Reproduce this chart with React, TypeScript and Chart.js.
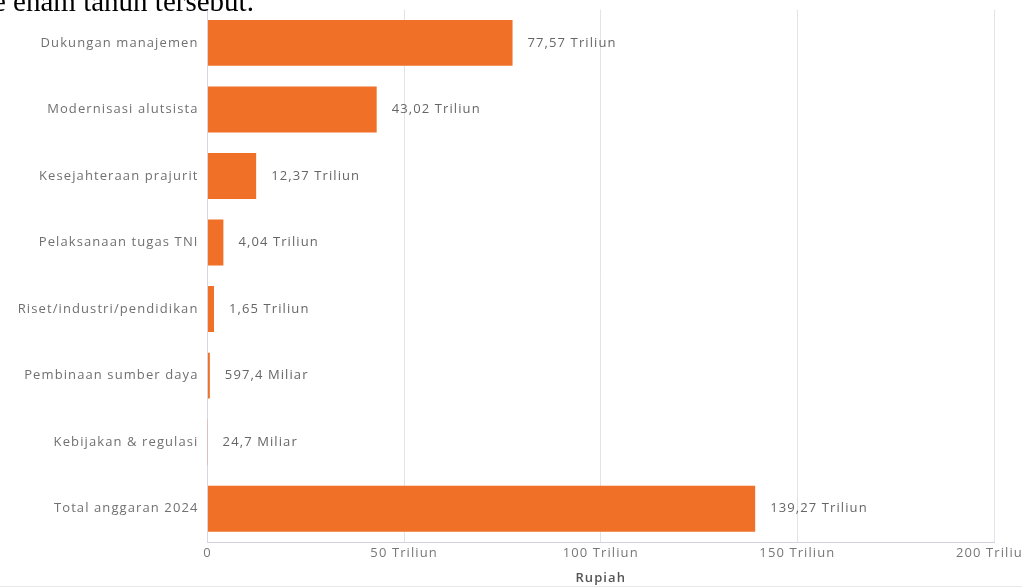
import React, { useEffect, useRef } from "react";
import { Chart, registerables } from "chart.js";

Chart.register(...registerables);

const categories = [
  "Dukungan manajemen",
  "Modernisasi alutsista",
  "Kesejahteraan prajurit",
  "Pelaksanaan tugas TNI",
  "Riset/industri/pendidikan",
  "Pembinaan sumber daya",
  "Kebijakan & regulasi",
  "Total anggaran 2024",
];

// values in Triliun rupiah
const values = [77.57, 43.02, 12.37, 4.04, 1.65, 0.5974, 0.0247, 139.27];

const valueLabels = [
  "77,57 Triliun",
  "43,02 Triliun",
  "12,37 Triliun",
  "4,04 Triliun",
  "1,65 Triliun",
  "597,4 Miliar",
  "24,7 Miliar",
  "139,27 Triliun",
];

const xTickUnit = "Triliun";
const xAxisTitle = "Rupiah";
const topText = "e enam tahun tersebut.";

const FONT = "'Open Sans', 'Noto Sans', sans-serif";
const SPACING = "1.1px";

const spacingPlugin = {
  id: "spacing",
  beforeLayout(chart: any) {
    chart.ctx.letterSpacing = SPACING;
  },
  beforeDraw(chart: any) {
    chart.ctx.letterSpacing = SPACING;
  },
};

const valueLabelPlugin = {
  id: "valueLabels",
  afterDatasetsDraw(chart: any) {
    const ctx = chart.ctx;
    const meta = chart.getDatasetMeta(0);
    ctx.save();
    ctx.letterSpacing = SPACING;
    ctx.font = `13px ${FONT}`;
    ctx.fillStyle = "#666666";
    ctx.textAlign = "left";
    ctx.textBaseline = "middle";
    meta.data.forEach((bar: any, i: number) => {
      ctx.fillText(valueLabels[i], bar.x + 15, bar.y);
    });
    ctx.restore();
  },
};

export default function App() {
  const canvasRef = useRef<HTMLCanvasElement | null>(null);

  useEffect(() => {
    if (!canvasRef.current) return;
    const chart = new Chart(canvasRef.current, {
      type: "bar",
      data: {
        labels: categories,
        datasets: [
          {
            data: values,
            backgroundColor: "#f07027",
            borderWidth: 0,
            barPercentage: 0.69,
            categoryPercentage: 1,
          },
        ],
      },
      options: {
        indexAxis: "y",
        responsive: false,
        animation: false,
        devicePixelRatio: 1,
        layout: { padding: { top: 9.6, right: 66, bottom: 0, left: 0 } },
        plugins: {
          legend: { display: false },
          tooltip: { enabled: false },
        },
        scales: {
          x: {
            min: 0,
            max: 200,
            ticks: {
              stepSize: 50,
              padding: 3,
              color: "#777777",
              font: { family: FONT, size: 13 },
              callback: (v: any) => (Number(v) === 0 ? "0" : `${v} ${xTickUnit}`),
              maxRotation: 0,
              autoSkip: false,
            },
            grid: {
              color: (c: any) => (c.tick && c.tick.value === 0 ? "rgba(0,0,0,0)" : "#e3e3e3"),
              drawTicks: false,
              lineWidth: 1,
            },
            border: { display: true, color: "#d6d0e6", width: 1 },
            title: {
              display: true,
              text: xAxisTitle,
              color: "#555555",
              font: { family: FONT, size: 13, weight: "600" },
              padding: { top: 0, bottom: 2 },
            },
            afterFit(scale: any) {
              scale.height = 46;
              scale.paddingLeft = 0;
              scale.paddingRight = 0;
            },
          },
          y: {
            ticks: {
              padding: 9,
              color: "#707070",
              font: { family: FONT, size: 13 },
              autoSkip: false,
            },
            grid: { display: false, drawTicks: false },
            border: { display: true, color: "#d6d6e6", width: 1 },
            afterFit(scale: any) {
              scale.width = 207.5;
              scale.paddingTop = 0;
              scale.paddingBottom = 0;
            },
          },
        },
      },
      plugins: [spacingPlugin, valueLabelPlugin],
    });
    return () => chart.destroy();
  }, []);

  return (
    <div
      style={{
        position: "fixed",
        top: 0,
        left: 0,
        width: 1022,
        height: 588,
        overflow: "hidden",
        background: "#ffffff",
      }}
    >
      <canvas ref={canvasRef} width={1060} height={588} style={{ display: "block" }} />
      <div
        style={{
          position: "absolute",
          left: -7,
          top: -13,
          fontFamily: "'Liberation Serif', 'Times New Roman', serif",
          fontSize: 29,
          lineHeight: 1,
          color: "#000",
          whiteSpace: "nowrap",
        }}
      >
        {topText}
      </div>
      <div
        style={{
          position: "absolute",
          left: 0,
          top: 586,
          width: 1022,
          height: 1,
          background: "#e8e8e8",
        }}
      />
    </div>
  );
}
